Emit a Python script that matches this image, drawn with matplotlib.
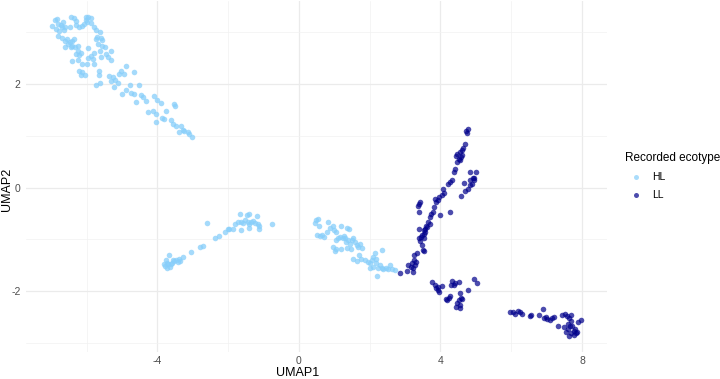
import matplotlib
matplotlib.use("Agg")
import matplotlib.pyplot as plt
from matplotlib.ticker import MultipleLocator

plt.rcParams['font.family'] = ['Liberation Sans', 'DejaVu Sans']
plt.rcParams['axes.unicode_minus'] = False

# UMAP coordinates, HL samples
hl_x = [-6.97, -6.90, -6.83, -6.80, -6.86, -6.74, -6.67, -6.71, -6.77, -6.64, -6.60, -6.45,
        -6.36, -6.29, -6.48, -6.31, -6.22, -6.14, -6.08, -6.01, -5.95, -5.89, -5.98, -5.89,
        -6.03, -6.80, -6.69, -6.61, -6.55, -6.48, -6.52, -6.43, -6.36, -6.41, -6.33, -6.26,
        -6.45, -6.60, -6.24, -6.17, -6.31, -6.22, -6.41, -6.24, -6.14, -5.79, -5.73, -5.63,
        -5.70, -5.60, -5.74, -5.56, -5.67, -5.48, -5.63, -5.32, -5.46, -5.79, -5.89, -5.95,
        -5.82, -5.60, -5.41, -5.32, -5.79, -5.98, -5.95, -5.56, -4.89, -5.04, -4.66, -5.65,
        -6.22, -6.14, -6.17, -6.05, -5.65, -5.37, -5.27, -5.32, -5.20, -5.08, -4.94, -5.13,
        -5.22, -5.74, -5.63, -4.78, -4.52, -4.89, -4.75, -4.99, -4.66, -4.47, -4.42, -4.33,
        -4.61, -4.09, -4.00,
        -3.88, -3.81, -3.76, -3.90, -3.62, -3.53, -3.50, -3.57, -3.48, -3.34, -3.29, -3.38,
        -3.24, -3.15, -3.10, -3.02, -4.05, -4.05, -4.14, -4.28,
        -3.78, -3.74, -3.69, -3.65, -3.72, -3.67, -3.59, -3.53, -3.48, -3.40, -3.37, -3.27,
        -3.05, -2.80, -2.70, -2.36, -2.27, -2.08, -2.01, -1.97, -1.87, -2.61, -1.80, -1.73,
        -1.68, -1.64, -1.59, -1.54, -1.47, -1.42, -1.45, -1.40, -1.35, -1.30, -1.23, -1.19,
        -1.16, -1.12, -1.13, -1.64, -1.42, -0.76, -3.81, -3.76, -3.57, -3.62, -3.43,
        0.45, 0.49, 0.54, 0.57, 0.51, 0.59, 0.66, 0.70, 0.78, 0.82, 0.89, 0.95,
        0.98, 1.04, 1.06, 1.11, 1.15, 1.20, 1.23, 1.27, 1.30, 1.32, 1.36, 1.42,
        1.39, 1.44, 1.49, 1.53, 1.58, 1.63, 1.67, 1.72, 1.77, 0.97, 1.01, 1.06,
        1.20, 1.36, 1.46, 1.53, 1.63, 1.70, 1.74, 1.86, 1.96, 2.01, 2.05, 2.10,
        2.15, 2.18, 2.19, 2.24, 2.29, 2.34, 2.36, 2.21, 2.38, 2.46, 2.53, 2.57,
        2.62, 2.71, 2.10, 2.01]
hl_y = [3.12, 3.24, 3.26, 3.17, 3.06, 3.15, 3.21, 3.10, 3.03, 3.04, 3.11, 3.30,
        3.28, 3.22, 3.11, 3.15, 3.11, 3.13, 3.16, 3.29, 3.29, 3.28, 3.21, 3.19,
        3.24, 2.94, 2.90, 2.84, 2.87, 2.81, 2.78, 2.84, 2.87, 2.74, 2.71, 2.74,
        2.71, 2.72, 2.65, 2.60, 2.58, 2.57, 2.45, 2.47, 2.39, 3.10, 3.04, 3.00,
        2.92, 2.90, 2.87, 2.85, 2.78, 2.72, 2.65, 2.65, 2.58, 2.61, 2.55, 2.51,
        2.49, 2.52, 2.52, 2.47, 2.39, 2.40, 2.70, 2.74, 2.36, 2.26, 2.23, 2.26,
        2.26, 2.23, 2.18, 2.18, 2.17, 2.15, 2.13, 2.07, 2.08, 2.20, 2.20, 2.02,
        1.94, 1.99, 2.02, 1.99, 1.99, 1.88, 1.84, 1.81, 1.81, 1.80, 1.75, 1.68,
        1.65, 1.78, 1.70,
        1.34, 1.32, 1.49, 1.64, 1.30, 1.62, 1.57, 1.23, 1.20, 1.20, 1.12, 1.08,
        1.10, 1.07, 1.04, 0.98, 1.27, 1.43, 1.49, 1.46,
        -1.51, -1.55, -1.48, -1.53, -1.46, -1.30, -1.45, -1.42, -1.40, -1.38, -1.42, -1.34,
        -1.24, -1.14, -1.12, -0.97, -0.93, -0.85, -0.80, -0.79, -0.80, -0.68, -0.71, -0.67,
        -0.50, -0.66, -0.69, -0.63, -0.53, -0.50, -0.67, -0.71, -0.66, -0.65, -0.69, -0.55,
        -0.71, -0.74, -0.79, -0.82, -0.78, -0.71, -1.48, -1.40, -1.40, -1.48, -1.43,
        -0.69, -0.63, -0.60, -0.73, -0.92, -0.93, -0.91, -0.95, -0.85, -0.66, -0.78, -0.74,
        -0.82, -0.85, -1.01, -0.98, -0.95, -0.73, -0.98, -0.93, -0.97, -1.05, -0.78, -0.79,
        -1.01, -1.08, -1.01, -0.98, -1.05, -1.11, -1.14, -1.08, -1.16, -1.14, -1.23, -1.18,
        -1.18, -1.16, -1.19, -1.37, -1.42, -1.30, -1.37, -1.40, -1.43, -1.46, -1.40, -1.34,
        -1.27, -1.37, -1.46, -1.55, -1.50, -1.56, -1.21, -1.70, -1.57, -1.55, -1.57, -1.50,
        -1.57, -1.59, -1.53, -1.56]

# UMAP coordinates, LL samples
ll_x = [2.86, 3.05, 3.09, 3.16, 3.22, 3.19, 3.24, 3.28, 3.31, 3.25, 3.33, 3.22,
        3.52, 3.47, 3.41, 3.38, 3.44, 3.52, 3.57, 3.59, 3.63, 3.71, 3.66, 3.38,
        3.47, 3.54, 3.57, 3.69, 3.73, 3.78, 3.82, 3.88, 3.85, 3.94, 3.97, 4.04,
        4.09, 4.07, 3.99, 4.26, 3.35, 3.38, 3.41, 3.38, 4.20, 4.28, 4.32, 4.37,
        4.42, 4.46, 4.51, 4.48, 4.56, 4.61, 4.54, 4.58, 4.63, 4.70, 4.73, 4.77,
        4.75, 4.84, 5.01, 4.92, 4.96, 4.84, 4.67, 4.82, 4.77, 4.70, 4.58, 4.89,
        4.96, 3.52, 3.50, 4.45, 4.60,
        3.76, 3.88, 3.92, 3.97, 4.04, 3.85, 3.94, 4.32, 4.37, 4.42, 4.51, 4.29,
        4.54, 4.58, 4.51, 4.48, 4.45, 4.54, 4.56, 4.61, 4.28, 4.18, 4.23, 4.16,
        4.77, 4.96, 5.03,
        5.96, 6.05, 6.12, 6.19, 6.24, 6.31, 6.53, 6.56, 6.78, 6.90, 6.92, 6.97,
        7.02, 7.09, 7.16, 7.21, 7.32, 7.44, 7.51, 7.57, 7.63, 7.68, 7.70, 7.59,
        7.49, 7.54, 7.63, 7.68, 7.76, 7.79, 7.85, 7.73, 7.89, 7.96, 7.82, 7.59,
        7.66, 7.77]
ll_y = [-1.64, -1.61, -1.50, -1.53, -1.55, -1.46, -1.40, -1.50, -1.43, -1.30, -1.27, -1.63,
        -1.23, -1.11, -1.02, -0.98, -0.95, -0.89, -0.79, -0.73, -0.76, -0.71, -0.67, -0.79,
        -0.92, -0.97, -0.85, -0.57, -0.50, -0.46, -0.37, -0.28, -0.22, -0.24, -0.18, -0.14,
        -0.10, -0.03, -0.52, -0.47, -0.35, -0.31, -0.28, -0.47, 0.08, 0.12, 0.14, 0.30,
        0.37, 0.49, 0.56, 0.65, 0.69, 0.72, 0.53, 0.59, 0.76, 0.85, 1.10, 1.14,
        1.06, 0.31, 0.30, 0.19, 0.14, 0.14, 0.10, 0.05, -0.02, -0.07, -0.16, 0.08,
        0.19, -0.81, -1.21, 0.61, 0.64,
        -1.82, -1.93, -1.98, -2.02, -1.90, -1.88, -1.91, -1.81, -1.87, -1.85, -1.83, -1.87,
        -2.04, -2.13, -2.17, -2.22, -2.30, -2.33, -2.27, -2.15, -2.09, -2.17, -2.14, -2.15,
        -1.97, -1.77, -1.85,
        -2.40, -2.40, -2.43, -2.38, -2.41, -2.43, -2.47, -2.45, -2.45, -2.34, -2.51, -2.49,
        -2.54, -2.56, -2.51, -2.49, -2.67, -2.45, -2.43, -2.47, -2.51, -2.46, -2.58, -2.64,
        -2.70, -2.78, -2.86, -2.81, -2.77, -2.72, -2.78, -2.67, -2.60, -2.56, -2.81, -2.73,
        -2.67, -2.85]

groups = ["HL", "LL"]
colors = {"HL": "#87cefa", "LL": "#00008b"}

fig = plt.figure(figsize=(7.2, 3.79), dpi=100)
ax = fig.add_axes([26 / 720, 1 - 351.7 / 379, 581 / 720, 350.7 / 379])

ax.scatter(hl_x, hl_y, s=16, color=colors["HL"], alpha=0.75, linewidths=0, label="HL", zorder=3)
ax.scatter(ll_x, ll_y, s=16, color=colors["LL"], alpha=0.7, linewidths=0, label="LL", zorder=3)
ax.margins(0.05)

ax.xaxis.set_major_locator(MultipleLocator(4))
ax.xaxis.set_minor_locator(MultipleLocator(2))
ax.yaxis.set_major_locator(MultipleLocator(2))
ax.yaxis.set_minor_locator(MultipleLocator(1))
ax.grid(which="major", color="#ebebeb", linewidth=0.9, zorder=0)
ax.grid(which="minor", color="#f2f2f2", linewidth=0.5, zorder=0)
ax.set_axisbelow(True)
for sp in ax.spines.values():
    sp.set_visible(False)
ax.tick_params(which="both", length=0, labelsize=7.5, labelcolor="#4d4d4d")
ax.tick_params(axis="x", pad=3)
ax.tick_params(axis="y", pad=4)

ax.set_xlabel("UMAP1", fontsize=9, color="black", labelpad=0)
ax.set_ylabel("UMAP2", fontsize=9, color="black", labelpad=2)
ax.xaxis.set_label_coords((298 - 26) / 581, -0.045)
ax.yaxis.set_label_coords(-0.023, (351.7 - 189) / 350.7)

leg = fig.legend(title="Recorded ecotype", loc="upper left", bbox_to_anchor=(621 / 720, 1 - 148 / 379),
                 frameon=False, fontsize=7.5, title_fontsize=8.5, markerscale=0.9,
                 handletextpad=0.6, labelspacing=0.75, borderaxespad=0)
leg._legend_box.align = "left"
for h in leg.legend_handles:
    h.set_alpha(0.7)

fig.savefig("out.png", dpi=100)
